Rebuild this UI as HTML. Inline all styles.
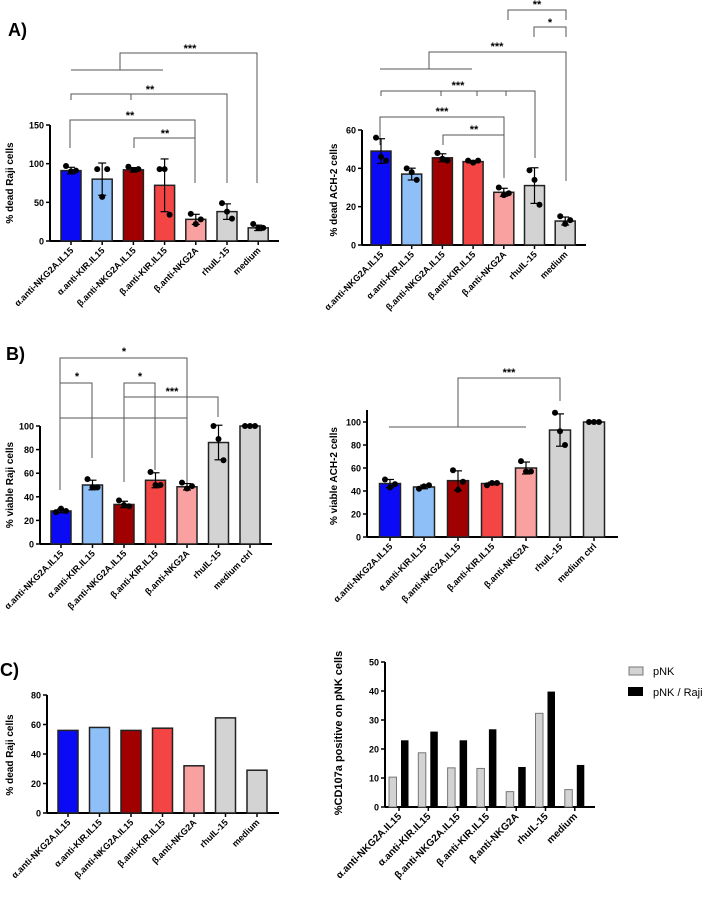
<!DOCTYPE html>
<html><head><meta charset="utf-8"><style>
body{margin:0;background:#fff}
svg text{font-family:"Liberation Sans",Arial,sans-serif;font-weight:bold;fill:#000}
</style></head><body>
<svg id="fig" width="707" height="894" viewBox="0 0 707 894" xmlns="http://www.w3.org/2000/svg">
<text x="8" y="36" font-size="18">A)</text>
<text x="6" y="360" font-size="18">B)</text>
<text x="0" y="676" font-size="18">C)</text>
<g id="brackets" stroke="#555" stroke-width="1" fill="none">
<polyline points="120,70 120,53 257,53 257,183"/><line x1="71" y1="70" x2="163" y2="70"/>
<polyline points="71,100 71,94 227,94 227,183"/><line x1="131" y1="94" x2="131" y2="100"/>
<polyline points="70,148 70,120 195,120 195,183"/>
<polyline points="134,148 134,138 195,138"/>
<polyline points="508,20 508,10 566,10 566,20"/>
<polyline points="534,37 534,27 566,27 566,37"/>
<polyline points="429,69 429,52 566,52 566,181"/><line x1="380" y1="69" x2="472" y2="69"/>
<polyline points="381,96 381,91 535,91 535,158"/>
<line x1="441" y1="91" x2="441" y2="96"/><line x1="477" y1="91" x2="477" y2="96"/><line x1="506" y1="91" x2="506" y2="96"/>
<polyline points="380,145 380,117 504,117 504,178"/>
<polyline points="443,145 443,135 504,135"/>
<polyline points="60,490 60,358 187,358 187,483"/><line x1="60" y1="418" x2="187" y2="418"/>
<polyline points="60,383 92,383 92,458"/>
<polyline points="124,482 124,383 155,383 155,470"/>
<polyline points="124,397 218,397 218,417"/>
<polyline points="458,427 458,378 560,378 560,401"/><line x1="389" y1="427" x2="526" y2="427"/>
</g>
<g id="stars" font-size="11" text-anchor="middle">
<text x="190" y="52">***</text><text x="150" y="93">**</text><text x="130" y="119">**</text><text x="165" y="137">**</text>
<text x="537" y="8">**</text><text x="550" y="26">*</text><text x="497" y="50">***</text><text x="458" y="89">***</text><text x="442" y="115">***</text><text x="474" y="133">**</text>
<text x="124" y="355">*</text><text x="77" y="380">*</text><text x="140" y="380">*</text><text x="172" y="395">***</text>
<text x="509" y="376">***</text>
</g>
</svg>
<script>
const NS="http://www.w3.org/2000/svg";
const svg=document.getElementById('fig');
const COLORS=["#0a0af5","#8fbff7","#a00000","#f44545","#f9a0a0","#d3d3d3","#d3d3d3"];

const catsA=["α.anti-NKG2A.IL15","α.anti-KIR.IL15","β.anti-NKG2A.IL15","β.anti-KIR.IL15","β.anti-NKG2A","rhuIL-15","medium"];
const catsB=["α.anti-NKG2A.IL15","α.anti-KIR.IL15","β.anti-NKG2A.IL15","β.anti-KIR.IL15","β.anti-NKG2A","rhuIL-15","medium ctrl"];

const valsA1=[91,80,92,72,28,38,17];
const ptsA1=[[97,90,91],[93,57,93],[96,92,93],[93,93,34],[35,22,28],[49,38,29],[22,17,17]];
const ticksA1=[0,50,100,150];

const valsA2=[49,37,45.5,43.5,27.5,31,12.5];
const ptsA2=[[56,46,44],[40,38,34],[48,45,44],[44,43,44],[30,26,27],[39,34,21],[15,11,13]];
const ticksA2=[0,20,40,60];

const valsB1=[28,50,33.5,54,48.5,86,100];
const ptsB1=[[27,30,28],[55,48,48],[37,33,32],[61,50,50],[52,47,49],[100,89,71],[100,100,100]];
const ticksB1=[0,20,40,60,80,100];

const valsB2=[46.5,43.5,49,46.5,60,93,100];
const ptsB2=[[50,43,46],[42,44,45],[58,41,48],[45,47,47],[66,57,57],[108,92,80],[100,100,100]];
const ticksB2=[0,20,40,60,80,100];

const valsC1=[56,58,56,57.5,32,64.5,29];
const ticksC1=[0,20,40,60,80];

const valsPNK=[10.3,18.7,13.5,13.3,5.3,32.3,6];
const valsRaji=[23,26,23,26.8,13.8,39.8,14.5];
const ticksC2=[0,10,20,30,40,50];

function el(tag,attrs,parent){const e=document.createElementNS(NS,tag);for(const k in attrs)e.setAttribute(k,attrs[k]);(parent||svg).appendChild(e);return e;}

function axes(p){
  const g=el('g',{});
  
  
  const y=v=>p.y0-(v-p.min)/(p.max-p.min)*(p.y0-p.y1);
  el('line',{x1:p.ax,y1:p.y1-(p.extTop||0),x2:p.ax,y2:p.y0,stroke:'#000','stroke-width':2},g);
  el('line',{x1:p.ax,y1:p.y0,x2:p.xe,y2:p.y0,stroke:'#000','stroke-width':2},g);
  p.ticks.forEach(t=>{
    el('line',{x1:p.ax-4,y1:y(t),x2:p.ax,y2:y(t),stroke:'#000','stroke-width':1.5},g);
    const tx=el('text',{x:p.ax-6,y:y(t)+3.5,'font-size':9,'text-anchor':'end'},g);tx.textContent=t;
  });
  p.cats.forEach((c,i)=>{
    const x=p.x0+i*p.dx;
    el('line',{x1:x,y1:p.y0,x2:x,y2:p.y0+4,stroke:'#000','stroke-width':1.5},g);
    const tx=el('text',{x:x+3,y:p.y0+10,'font-size':p.lfs||9,'text-anchor':'end',transform:`rotate(-45 ${x+3} ${p.y0+10})`},g);
    tx.textContent=c;
    
    
  });
  const yl=el('text',{x:p.ylx,y:p.yly,'font-size':p.yfs||10,'text-anchor':'middle',transform:`rotate(-90 ${p.ylx} ${p.yly})`},g);
  yl.textContent=p.ylabel;
  
  
  return y;
}

function barPanel(p){
  const y=axes(p);
  const g=el('g',{});
  
  
  p.vals.forEach((v,i)=>{
    const x=p.x0+i*p.dx;
    const r=el('rect',{x:x-p.bw/2,y:y(v),width:p.bw,height:p.y0-y(v),fill:COLORS[i],stroke:'#222','stroke-width':1.5},g);
    
    
    if(p.pts){
      const pts=p.pts[i];const m=v;
      const sd=Math.sqrt(pts.reduce((a,b)=>a+(b-m)*(b-m),0)/(pts.length-1));
      el('line',{x1:x,y1:y(m-sd),x2:x,y2:y(m+sd),stroke:'#000','stroke-width':1.2},g);
      el('line',{x1:x-4,y1:y(m+sd),x2:x+4,y2:y(m+sd),stroke:'#000','stroke-width':1.2},g);
      el('line',{x1:x-4,y1:y(m-sd),x2:x+4,y2:y(m-sd),stroke:'#000','stroke-width':1.2},g);
      pts.forEach((pv,j)=>{
        const c=el('circle',{cx:x+(j-1)*5,cy:y(pv),r:3,fill:'#000'},g);
        
        
      });
    }
  });
}

barPanel({name:'a-left',cats:catsA,vals:valsA1,pts:ptsA1,ticks:ticksA1,min:0,max:150,ax:50,xe:279,y0:241,y1:125,x0:71,dx:31.2,bw:20,ylabel:'% dead Raji cells',ylx:13,yly:183});
barPanel({name:'a-right',cats:catsA,vals:valsA2,pts:ptsA2,ticks:ticksA2,min:0,max:60,ax:362,xe:586,y0:245,y1:130,extTop:0,x0:381,dx:30.7,bw:20,ylabel:'% dead ACH-2 cells',ylx:337,yly:190});
barPanel({name:'b-left',cats:catsB,vals:valsB1,pts:ptsB1,ticks:ticksB1,min:0,max:100,ax:40,xe:272,y0:544,y1:426,x0:61,dx:31.5,bw:20,ylabel:'% viable Raji cells',ylx:13,yly:485});
barPanel({name:'b-right',cats:catsB,vals:valsB2,pts:ptsB2,ticks:ticksB2,min:0,max:100,ax:367,xe:618,y0:537,y1:422,extTop:12,x0:390,dx:34,bw:21,ylabel:'% viable ACH-2 cells',ylx:337,yly:476});
barPanel({name:'c-left',cats:catsA,vals:valsC1,ticks:ticksC1,min:0,max:80,ax:47,xe:279,y0:813,y1:695,x0:68,dx:31.5,bw:20,ylabel:'% dead Raji cells',ylx:13,yly:755});

(function(){
  const p={name:'c-right',cats:catsA,ticks:ticksC2,min:0,max:50,ax:385,xe:595,y0:807,y1:662,x0:399,dx:29.3,ylabel:'%CD107a positive on pNK cells',ylx:342,yly:733,yfs:11,lfs:10};
  const y=axes(p);
  const g=el('g',{});
  
  
  p.cats.forEach((c,i)=>{
    const x=p.x0+i*p.dx;
    const a=el('rect',{x:x-10,y:y(valsPNK[i]),width:7.5,height:p.y0-y(valsPNK[i]),fill:'#d3d3d3',stroke:'#777','stroke-width':1},g);
    
    
    const b=el('rect',{x:x+2,y:y(valsRaji[i]),width:7.5,height:p.y0-y(valsRaji[i]),fill:'#000'},g);
    
    
  });
  const lg=el('g',{});
  
  
  el('rect',{x:629,y:667,width:14,height:8,fill:'#d3d3d3',stroke:'#777','stroke-width':1},lg);
  el('rect',{x:628,y:687,width:15,height:9,fill:'#000'},lg);
  const t1=el('text',{x:653,y:675,'font-size':11,style:'font-weight:normal'},lg);t1.textContent='pNK';
  const t2=el('text',{x:653,y:696,'font-size':11,style:'font-weight:normal'},lg);t2.textContent='pNK / Raji';
})();
</script>
</body></html>
